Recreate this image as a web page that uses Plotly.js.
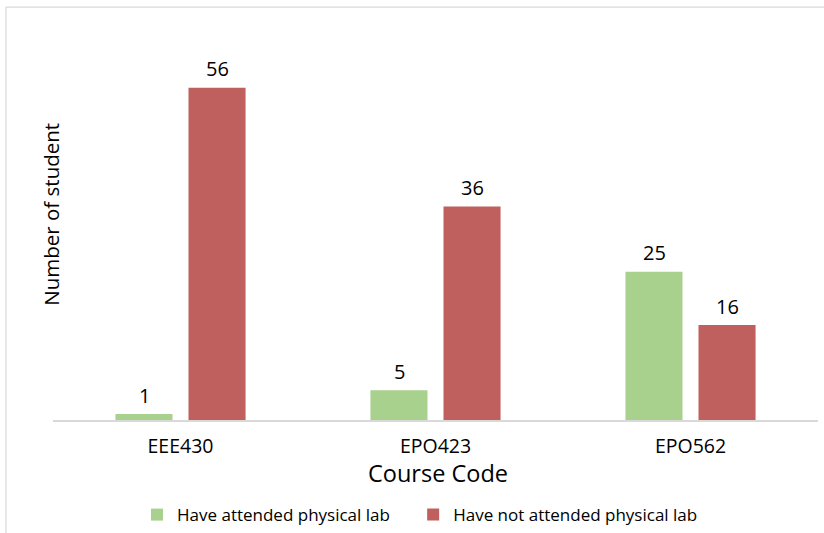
<!DOCTYPE html>
<html>
<head>
<meta charset="utf-8">
<script src="https://cdn.plot.ly/plotly-3.0.1.min.js"></script>
<style>html,body{margin:0;padding:0;background:#fff;}#chart{width:824px;height:533px;}</style>
</head>
<body>
<div id="chart"></div>
<script>
var categories = ["EEE430", "EPO423", "EPO562"];
var attended = [1, 5, 25];
var notAttended = [56, 36, 16];
var seriesNames = ["Have attended physical lab", "Have not attended physical lab"];
var colors = ["#a9d18e", "#c0605e"];
var xTitle = "Course Code";
var yTitle = "Number of student";

var FONT = "Open Sans, Lato, sans-serif";

var traces = [
  {type: "bar", name: seriesNames[0], x: categories, y: attended,
   marker: {color: colors[0]}, hoverinfo: "skip", legend: "legend"},
  {type: "bar", name: seriesNames[1], x: categories, y: notAttended,
   marker: {color: colors[1]}, hoverinfo: "skip", legend: "legend2"}
];

var annotations = [];
[attended, notAttended].forEach(function (vals, si) {
  vals.forEach(function (v, i) {
    annotations.push({
      x: categories[i], y: v, xref: "x", yref: "y",
      text: String(v), showarrow: false,
      xshift: si === 0 ? -36.5 : 36.5, yshift: 19,
      font: {family: FONT, size: 20, color: "#000"}
    });
  });
});
annotations.push({
  xref: "paper", yref: "paper", x: -0.002, y: 0.578,
  text: yTitle, textangle: -90, showarrow: false,
  xanchor: "center", yanchor: "middle",
  font: {family: FONT, size: 20.5, color: "#000"}
});
annotations.push({
  xref: "paper", yref: "paper", x: 0.503, y: -0.149,
  text: xTitle, showarrow: false,
  xanchor: "center", yanchor: "middle",
  font: {family: FONT, size: 23.5, color: "#000"}
});

var legendFont = {family: FONT, size: 17, color: "#000"};

var layout = {
  width: 824, height: 533,
  margin: {l: 53, r: 6, t: 64, b: 113, pad: 0, autoexpand: false},
  paper_bgcolor: "#fff", plot_bgcolor: "#fff",
  barmode: "group", bargap: 0.427, bargroupgap: 0.219,
  showlegend: true,
  legend: {orientation: "h", x: 0.1098, xanchor: "left", y: -0.267, yanchor: "middle",
           bgcolor: "rgba(0,0,0,0)", font: legendFont},
  legend2: {orientation: "h", x: 0.4708, xanchor: "left", y: -0.267, yanchor: "middle",
           bgcolor: "rgba(0,0,0,0)", font: legendFont},
  xaxis: {
    showline: true, linecolor: "#d9d9d9", linewidth: 1.5,
    ticks: "", ticklabelstandoff: 8, tickfont: {family: FONT, size: 19.5, color: "#000"},
    showgrid: false, zeroline: false, fixedrange: true
  },
  yaxis: {
    range: [0, 60], visible: false, showgrid: false, zeroline: false, fixedrange: true
  },
  annotations: annotations,
  shapes: [
    {type: "line", xref: "paper", yref: "paper", x0: -0.0615, x1: -0.0615, y0: 1.16, y1: -0.4,
     line: {color: "#d9d9d9", width: 1.2}},
    {type: "line", xref: "paper", yref: "paper", x0: -0.0615, x1: 1.1, y0: 1.16, y1: 1.16,
     line: {color: "#d9d9d9", width: 1.2}}
  ]
};

Plotly.newPlot("chart", traces, layout, {displayModeBar: false, staticPlot: true});
</script>
</body>
</html>
